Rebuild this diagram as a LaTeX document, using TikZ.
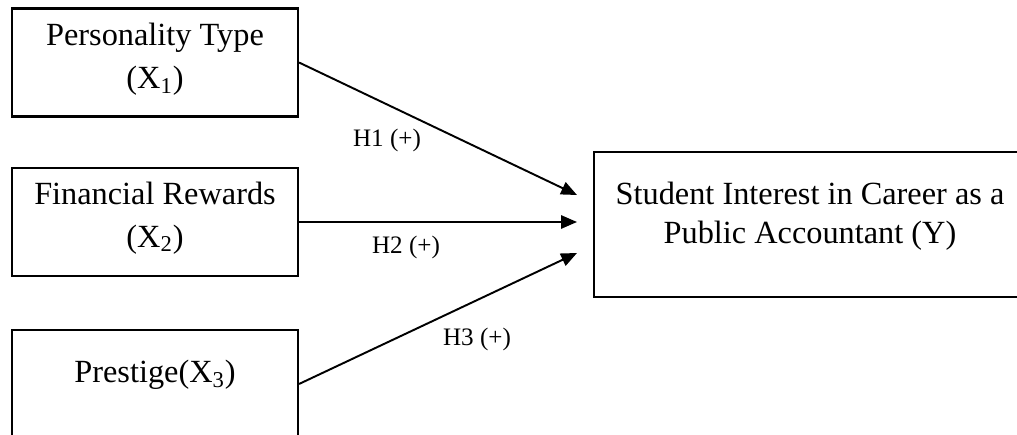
\documentclass[tikz,border=0pt]{standalone}
\usepackage{fontspec}
\setmainfont{Liberation Serif}
\usetikzlibrary{arrows.meta,calc}
\tikzset{
  varbox/.style={draw, line width=1.2pt, minimum width=5.72cm, minimum height=2.16cm, inner sep=0pt},
  boxtext/.style={align=center, font=\fontsize{18.4}{24.5}\selectfont},
  hyplabel/.style={font=\fontsize{14.3}{16}\selectfont},
  hyparrow/.style={line width=1.1pt, -{Triangle[length=9pt,width=7.5pt]}}
}
\begin{document}
\begin{tikzpicture}[x=0.02cm, y=-0.02cm]
        \useasboundingbox (0,0) rectangle (1017,435);
        \clip (0,0) rectangle (1017,435);
        % 自变量
        \node[varbox] (x1) at (155,62.5) {};
        \node[varbox] (x2) at (155,222) {};
        \node[varbox] (x3) at (155,384) {};
        \node[boxtext] (t1) at ($(x1.center)+(0,-3)$) {Personality Type\\(X\textsubscript{1})};
        \node[boxtext] (t2) at ($(x2.center)+(0,-4)$) {Financial Rewards\\(X\textsubscript{2})};
        \node[boxtext] (t3) at ($(x3.center)+(0,-9)$) {Prestige(X\textsubscript{3})};
        % 因变量
        \node[varbox, minimum width=8.64cm, minimum height=2.9cm] (y) at (810,224.5) {};
        \node[boxtext, font=\fontsize{18.4}{22}\selectfont] (ty) at ($(y.center)+(0,-8)$) {Student Interest in Career as a\\Public Accountant (Y)};
        % 箭头终点
        \coordinate (e1) at ($(y.west)+(-16,-29.5)$);
        \coordinate (e2) at ($(y.west)+(-16,-2.5)$);
        \coordinate (e3) at ($(y.west)+(-16,28.5)$);
        % 假设
        \draw[hyparrow] (x1.east) -- (e1);
        \draw[hyparrow] (x2.east) -- (e2);
        \draw[hyparrow] (x3.east) -- (e3);
        \node[hyplabel] (h1) at (387,140) {H1 (+)};
        \node[hyplabel] (h2) at (406,247) {H2 (+)};
        \node[hyplabel] (h3) at (477,339) {H3 (+)};
\end{tikzpicture}
\end{document}
